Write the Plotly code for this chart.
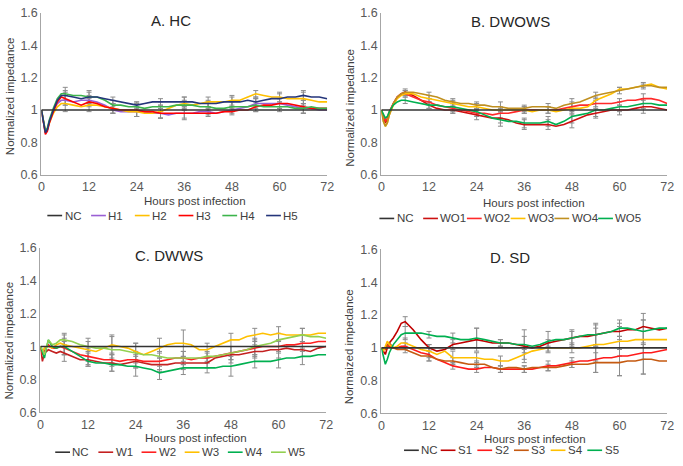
import plotly.graph_objects as go

# time points (hours post infection)
hours = [0, 0.5, 1, 1.5, 2, 3, 4, 5, 6, 8, 10, 12, 14, 16, 18, 20, 22, 24, 26, 28, 30,
         32, 34, 36, 38, 40, 42, 44, 46, 48, 50, 52, 54, 56, 58, 60, 62, 64, 66, 68, 70, 72]
err_hours = [6, 12, 18, 24, 30, 36, 42, 48, 54, 60, 66]
nc_hours = [0, 72]
nc_vals = [1.0, 1.0]

x_ticks = [0, 12, 24, 36, 48, 60, 72]
y_ticks = [0.6, 0.8, 1.0, 1.2, 1.4, 1.6]
y_tick_labels = ["0.6", "0.8", "1", "1.2", "1.4", "1.6"]

# A. HC
hc_names = ["H1", "H2", "H3", "H4", "H5"]
hc_colors = ["#9a5fd4", "#ffc000", "#ff0000", "#3cb44b", "#24357a"]
hc_h1 = [1.0, 0.93, 0.86, 0.88, 0.93, 1.00, 1.04, 1.06, 1.06, 1.05, 1.06, 1.06, 1.05, 1.03, 1.00, 0.99,
         0.99, 0.99, 0.99, 0.98, 0.98, 0.97, 0.98, 0.98, 0.98, 0.99, 0.99, 0.98, 0.99, 1.00, 1.01, 1.02,
         1.04, 1.04, 1.04, 1.04, 1.03, 1.02, 1.01, 1.01, 1.00, 1.00]
hc_h2 = [1.0, 0.94, 0.87, 0.88, 0.92, 0.98, 1.02, 1.04, 1.04, 1.03, 1.02, 1.03, 1.03, 1.02, 1.01, 1.00,
         0.99, 0.99, 0.98, 0.98, 0.99, 1.01, 1.03, 1.04, 1.03, 1.04, 1.05, 1.05, 1.05, 1.06, 1.06, 1.08,
         1.10, 1.09, 1.08, 1.08, 1.07, 1.07, 1.07, 1.06, 1.05, 1.05]
hc_h3 = [1.0, 0.93, 0.85, 0.87, 0.92, 0.99, 1.05, 1.08, 1.07, 1.05, 1.03, 1.05, 1.04, 1.02, 1.01, 1.00,
         1.00, 1.00, 0.99, 0.99, 0.98, 0.98, 0.98, 0.98, 0.98, 0.98, 0.98, 0.98, 0.99, 0.99, 1.00, 1.00,
         1.02, 1.03, 1.03, 1.04, 1.04, 1.03, 1.02, 1.01, 1.01, 1.01]
hc_h4 = [1.0, 0.94, 0.87, 0.89, 0.94, 1.01, 1.07, 1.10, 1.10, 1.09, 1.09, 1.08, 1.08, 1.06, 1.03, 1.03,
         1.02, 1.02, 1.01, 1.02, 1.02, 1.02, 1.03, 1.03, 1.03, 1.02, 1.02, 1.01, 1.01, 1.02, 1.02, 1.02,
         1.03, 1.02, 1.02, 1.02, 1.02, 1.01, 1.01, 1.02, 1.01, 1.01]
hc_h5 = [1.0, 0.93, 0.86, 0.88, 0.93, 1.00, 1.06, 1.09, 1.09, 1.08, 1.07, 1.08, 1.08, 1.07, 1.06, 1.05,
         1.04, 1.03, 1.04, 1.05, 1.05, 1.05, 1.05, 1.05, 1.05, 1.04, 1.04, 1.04, 1.05, 1.05, 1.05, 1.06,
         1.05, 1.06, 1.07, 1.07, 1.08, 1.08, 1.09, 1.08, 1.08, 1.07]
hc_err = [[0.03, 0.03, 0.02, 0.03, 0.03, 0.03, 0.02, 0.02, 0.03, 0.03, 0.03],
          [0.05, 0.04, 0.03, 0.03, 0.04, 0.04, 0.03, 0.03, 0.02, 0.03, 0.04],
          [0.04, 0.03, 0.03, 0.04, 0.03, 0.04, 0.02, 0.02, 0.03, 0.03, 0.04],
          [0.04, 0.03, 0.03, 0.03, 0.03, 0.03, 0.03, 0.03, 0.04, 0.03, 0.03],
          [0.03, 0.04, 0.02, 0.02, 0.02, 0.03, 0.02, 0.03, 0.03, 0.03, 0.03]]

# B. DWOWS
dwows_names = ["WO1", "WO2", "WO3", "WO4", "WO5"]
dwows_colors = ["#cc1010", "#ff2a2a", "#ffc000", "#c09020", "#00b050"]
dwows_wo1 = [1.0, 0.95, 0.92, 0.94, 0.98, 1.04, 1.08, 1.10, 1.11, 1.09, 1.06, 1.03, 1.01, 1.00, 1.00, 0.99,
             0.98, 0.97, 0.96, 0.95, 0.95, 0.94, 0.92, 0.91, 0.91, 0.91, 0.91, 0.90, 0.91, 0.93, 0.95, 0.97,
             0.98, 0.99, 1.00, 1.00, 1.00, 1.01, 1.02, 1.02, 1.01, 1.00]
dwows_wo2 = [1.0, 0.96, 0.93, 0.95, 0.99, 1.04, 1.08, 1.10, 1.10, 1.08, 1.06, 1.05, 1.03, 1.02, 1.01, 1.00,
             0.99, 0.98, 0.98, 0.97, 0.98, 0.98, 0.99, 1.00, 1.00, 1.00, 1.00, 1.00, 1.01, 1.02, 1.03, 1.03,
             1.04, 1.04, 1.04, 1.05, 1.06, 1.06, 1.07, 1.07, 1.06, 1.04]
dwows_wo3 = [1.0, 0.93, 0.90, 0.92, 0.97, 1.03, 1.07, 1.09, 1.10, 1.10, 1.08, 1.07, 1.06, 1.05, 1.04, 1.03,
             1.02, 1.02, 1.01, 1.00, 1.00, 1.00, 1.00, 1.00, 0.99, 1.00, 1.00, 0.99, 1.00, 1.01, 1.01, 1.02,
             1.06, 1.08, 1.10, 1.13, 1.13, 1.14, 1.15, 1.16, 1.14, 1.13]
dwows_wo4 = [1.0, 0.93, 0.90, 0.92, 0.97, 1.04, 1.08, 1.10, 1.11, 1.11, 1.10, 1.09, 1.08, 1.06, 1.05, 1.04,
             1.04, 1.03, 1.03, 1.02, 1.02, 1.01, 1.01, 1.01, 1.02, 1.02, 1.02, 1.01, 1.03, 1.04, 1.05, 1.07,
             1.09, 1.10, 1.11, 1.12, 1.13, 1.14, 1.15, 1.15, 1.14, 1.14]
dwows_wo5 = [1.0, 0.97, 0.95, 0.96, 0.99, 1.03, 1.05, 1.06, 1.06, 1.05, 1.04, 1.03, 1.03, 1.02, 1.02, 1.01,
             1.00, 0.99, 0.97, 0.95, 0.94, 0.93, 0.93, 0.92, 0.92, 0.92, 0.93, 0.91, 0.93, 0.96, 0.97, 0.98,
             1.00, 1.00, 1.01, 1.02, 1.02, 1.03, 1.04, 1.04, 1.03, 1.03]
dwows_err = [[0.02, 0.02, 0.02, 0.03, 0.03, 0.03, 0.03, 0.04, 0.03, 0.03, 0.04],
             [0.02, 0.02, 0.03, 0.02, 0.03, 0.02, 0.02, 0.03, 0.02, 0.02, 0.03],
             [0.01, 0.02, 0.02, 0.02, 0.02, 0.02, 0.02, 0.03, 0.02, 0.01, 0.02],
             [0.01, 0.02, 0.02, 0.02, 0.03, 0.02, 0.02, 0.03, 0.02, 0.02, 0.01],
             [0.02, 0.02, 0.03, 0.02, 0.04, 0.03, 0.03, 0.04, 0.04, 0.03, 0.03]]

# C. DWWS
dwws_names = ["W1", "W2", "W3", "W4", "W5"]
dwws_colors = ["#c42020", "#ff2020", "#ffc000", "#00b050", "#92d050"]
dwws_w1 = [1.0, 0.91, 0.96, 0.97, 0.98, 0.97, 0.96, 0.97, 0.96, 0.94, 0.92, 0.92, 0.91, 0.90, 0.90, 0.89,
           0.90, 0.91, 0.90, 0.89, 0.89, 0.89, 0.90, 0.90, 0.90, 0.90, 0.90, 0.93, 0.94, 0.95, 0.95, 0.96,
           0.97, 0.97, 0.98, 0.98, 0.99, 0.98, 0.98, 0.97, 0.99, 1.00]
dwws_w2 = [1.0, 0.95, 0.97, 1.00, 1.01, 0.99, 0.99, 1.00, 0.99, 0.97, 0.95, 0.94, 0.93, 0.92, 0.92, 0.91,
           0.92, 0.92, 0.91, 0.91, 0.91, 0.92, 0.93, 0.93, 0.92, 0.93, 0.93, 0.94, 0.95, 0.96, 0.97, 0.98,
           0.99, 1.00, 1.00, 1.00, 1.01, 1.01, 1.02, 1.02, 1.03, 1.03]
dwws_w3 = [1.0, 0.97, 0.99, 1.00, 1.00, 0.99, 1.01, 1.02, 1.01, 1.00, 0.99, 0.98, 0.97, 0.99, 1.01, 1.00,
           0.99, 0.97, 0.95, 0.97, 0.99, 1.01, 1.02, 1.02, 1.01, 0.98, 0.98, 1.00, 1.02, 1.04, 1.04, 1.06,
           1.07, 1.08, 1.07, 1.08, 1.07, 1.07, 1.07, 1.07, 1.08, 1.08]
dwws_w4 = [1.0, 0.96, 0.93, 0.99, 1.04, 1.00, 0.99, 1.00, 1.00, 0.97, 0.94, 0.91, 0.90, 0.90, 0.89, 0.89,
           0.88, 0.88, 0.87, 0.86, 0.84, 0.85, 0.86, 0.87, 0.87, 0.87, 0.87, 0.87, 0.88, 0.88, 0.89, 0.90,
           0.91, 0.91, 0.91, 0.92, 0.93, 0.93, 0.94, 0.94, 0.95, 0.95]
dwws_w5 = [1.0, 0.98, 0.95, 1.00, 1.04, 1.01, 1.02, 1.04, 1.04, 1.03, 1.01, 1.00, 0.99, 0.99, 0.98, 0.98,
           0.97, 0.96, 0.95, 0.95, 0.94, 0.93, 0.93, 0.93, 0.93, 0.93, 0.94, 0.94, 0.95, 0.96, 0.97, 0.98,
           1.00, 1.01, 1.02, 1.04, 1.05, 1.06, 1.07, 1.06, 1.06, 1.05]
dwws_err = [[0.05, 0.04, 0.05, 0.04, 0.04, 0.04, 0.03, 0.05, 0.04, 0.05, 0.04],
            [0.04, 0.05, 0.04, 0.05, 0.05, 0.04, 0.03, 0.04, 0.05, 0.04, 0.05],
            [0.06, 0.07, 0.06, 0.05, 0.06, 0.08, 0.04, 0.04, 0.04, 0.04, 0.04],
            [0.05, 0.03, 0.04, 0.06, 0.04, 0.04, 0.03, 0.06, 0.04, 0.05, 0.05],
            [0.04, 0.03, 0.08, 0.06, 0.03, 0.04, 0.03, 0.04, 0.05, 0.04, 0.04]]

# D. SD
sd_names = ["S1", "S2", "S3", "S4", "S5"]
sd_colors = ["#c00000", "#ff1a1a", "#c55a11", "#ffc000", "#00b050"]
sd_s1 = [1.0, 0.98, 0.96, 1.00, 1.03, 1.06, 1.10, 1.15, 1.16, 1.11, 1.05, 1.00, 0.98, 0.99, 1.02, 1.03,
         1.04, 1.05, 1.04, 1.03, 1.03, 1.03, 1.02, 1.01, 1.00, 1.01, 1.03, 1.04, 1.05, 1.06, 1.07, 1.07,
         1.08, 1.09, 1.10, 1.10, 1.11, 1.11, 1.13, 1.12, 1.11, 1.12]
sd_s2 = [1.0, 0.99, 1.00, 1.02, 1.01, 1.00, 1.00, 1.01, 1.01, 0.99, 0.97, 0.96, 0.93, 0.91, 0.89, 0.88,
         0.87, 0.87, 0.88, 0.88, 0.87, 0.87, 0.87, 0.87, 0.87, 0.88, 0.89, 0.89, 0.90, 0.91, 0.92, 0.92,
         0.93, 0.94, 0.94, 0.95, 0.95, 0.96, 0.97, 0.97, 0.98, 0.99]
sd_s3 = [1.0, 0.99, 0.99, 1.01, 1.03, 1.00, 0.99, 0.99, 0.99, 0.97, 0.95, 0.95, 0.93, 0.92, 0.92, 0.91,
         0.90, 0.90, 0.90, 0.88, 0.87, 0.88, 0.88, 0.87, 0.88, 0.88, 0.88, 0.88, 0.89, 0.90, 0.90, 0.90,
         0.91, 0.91, 0.91, 0.91, 0.92, 0.92, 0.93, 0.93, 0.92, 0.92]
sd_s4 = [1.0, 0.98, 1.01, 1.04, 1.02, 1.00, 1.01, 1.03, 1.03, 1.01, 0.99, 0.98, 0.96, 0.98, 0.94, 0.94,
         0.94, 0.94, 0.93, 0.93, 0.92, 0.92, 0.94, 0.96, 0.98, 0.99, 1.00, 1.00, 1.00, 1.00, 1.00, 1.01,
         1.02, 1.02, 1.03, 1.04, 1.04, 1.05, 1.05, 1.05, 1.05, 1.05]
sd_s5 = [1.0, 0.95, 0.90, 0.93, 0.97, 1.02, 1.05, 1.08, 1.09, 1.09, 1.09, 1.08, 1.07, 1.07, 1.06, 1.05,
         1.05, 1.06, 1.05, 1.04, 1.03, 1.03, 1.02, 1.02, 1.01, 1.02, 1.04, 1.05, 1.05, 1.06, 1.07, 1.08,
         1.08, 1.09, 1.10, 1.12, 1.12, 1.11, 1.10, 1.11, 1.12, 1.12]
sd_err = [[0.03, 0.02, 0.03, 0.07, 0.02, 0.10, 0.02, 0.05, 0.07, 0.05, 0.08],
          [0.02, 0.04, 0.02, 0.02, 0.02, 0.02, 0.03, 0.03, 0.08, 0.12, 0.13],
          [0.02, 0.03, 0.02, 0.02, 0.02, 0.02, 0.02, 0.02, 0.06, 0.08, 0.09],
          [0.03, 0.04, 0.04, 0.03, 0.03, 0.03, 0.03, 0.03, 0.10, 0.09, 0.12],
          [0.04, 0.02, 0.03, 0.06, 0.02, 0.05, 0.06, 0.04, 0.06, 0.05, 0.07]]

W, H = 683, 466
FONT = "Liberation Sans, Arial, sans-serif"
NC_COLOR = "#333333"
ERR_COLOR = "#8c8c8c"
TICK_SIZE = 12.5
TEXT_SIZE = 11.5


def fx(p):
    return p / W


def fy(p):
    return 1 - p / H


# panel layout (pixel boxes) and labels
panels = [
    dict(title="A. HC", ylab="Normalized impedance", names=hc_names, colors=hc_colors,
         series=[hc_h1, hc_h2, hc_h3, hc_h4, hc_h5], err=hc_err,
         box=(39, 329, 6, 173), tpos=(170, 14), xt=(195, 200), yt=(7, 92), leg=(45, 44.4, 215)),
    dict(title="B. DWOWS", ylab="Normalized impedance", names=dwows_names, colors=dwows_colors,
         series=[dwows_wo1, dwows_wo2, dwows_wo3, dwows_wo4, dwows_wo5], err=dwows_err,
         box=(384, 674, 6, 173), tpos=(515, 15), xt=(539, 202), yt=(352, 104), leg=(382, 44.4, 218)),
    dict(title="C. DWWS", ylab="Normalized impedance", names=dwws_names, colors=dwws_colors,
         series=[dwws_w1, dwws_w2, dwws_w3, dwws_w4, dwws_w5], err=dwws_err,
         box=(38, 328, 248, 418), tpos=(168, 256), xt=(196, 444), yt=(6, 344), leg=(53, 43.8, 459)),
    dict(title="D. SD", ylab="Normaized impedance", names=sd_names, colors=sd_colors,
         series=[sd_s1, sd_s2, sd_s3, sd_s4, sd_s5], err=sd_err,
         box=(384, 674, 250, 419), tpos=(515, 258), xt=(540, 445), yt=(352, 350), leg=(407, 37.2, 457)),
]

fig = go.Figure()
layout = dict(width=W, height=H, autosize=False, margin=dict(l=0, r=0, t=0, b=0),
              paper_bgcolor="white", plot_bgcolor="white", showlegend=False,
              font=dict(family=FONT, color="#404040"))
annotations = []
shapes = []

for k, p in enumerate(panels):
    n = "" if k == 0 else str(k + 1)
    xref, yref = "x" + n, "y" + n
    x0, x1, y0, y1 = p["box"]
    layout["xaxis" + n] = dict(domain=[fx(x0), fx(x1)], range=[0, 72], anchor=yref,
                               tickvals=x_ticks, showgrid=False, zeroline=False, showline=True,
                               linecolor="#a6a6a6", linewidth=1.3, ticks="",
                               tickfont=dict(size=TICK_SIZE, color="#595959", family=FONT))
    layout["yaxis" + n] = dict(domain=[fy(y1), fy(y0)], range=[0.6, 1.6], anchor=xref,
                               tickvals=y_ticks, ticktext=y_tick_labels, showgrid=False,
                               zeroline=False, showline=True, linecolor="#a6a6a6", linewidth=1.3,
                               ticks="", tickfont=dict(size=TICK_SIZE, color="#595959", family=FONT))

    # error bars first so lines sit on top
    for vals, errs in zip(p["series"], p["err"]):
        ey = [vals[hours.index(h)] for h in err_hours]
        fig.add_trace(go.Scatter(x=err_hours, y=ey, mode="markers", xaxis=xref, yaxis=yref,
                                 marker=dict(size=1, opacity=0), hoverinfo="skip",
                                 error_y=dict(type="data", array=errs, color=ERR_COLOR,
                                              thickness=1, width=2.5)))
    for name, color, vals in zip(p["names"], p["colors"], p["series"]):
        fig.add_trace(go.Scatter(x=hours, y=vals, mode="lines", name=name, xaxis=xref, yaxis=yref,
                                 line=dict(color=color, width=1.6)))
    fig.add_trace(go.Scatter(x=nc_hours, y=nc_vals, mode="lines", name="NC", xaxis=xref, yaxis=yref,
                             line=dict(color=NC_COLOR, width=1.6)))

    annotations.append(dict(text=p["title"], x=fx(p["tpos"][0]), y=fy(p["tpos"][1]), xref="paper",
                            yref="paper", showarrow=False, xanchor="center", yanchor="middle",
                            font=dict(size=15, color="#262626", family=FONT)))
    annotations.append(dict(text="Hours post infection", x=fx(p["xt"][0]), y=fy(p["xt"][1]),
                            xref="paper", yref="paper", showarrow=False, xanchor="center",
                            yanchor="middle", font=dict(size=TEXT_SIZE, color="#404040", family=FONT)))
    annotations.append(dict(text=p["ylab"], x=fx(p["yt"][0]), y=fy(p["yt"][1]), xref="paper",
                            yref="paper", showarrow=False, textangle=-90, xanchor="center",
                            yanchor="middle", font=dict(size=TEXT_SIZE, color="#404040", family=FONT)))

    # legend row drawn by hand: short line + label
    lx, step, ly = p["leg"]
    for i, (name, color) in enumerate(zip(["NC"] + p["names"], [NC_COLOR] + p["colors"])):
        sx = lx + i * step
        shapes.append(dict(type="line", xref="paper", yref="paper", x0=fx(sx), x1=fx(sx + 15),
                           y0=fy(ly), y1=fy(ly), line=dict(color=color, width=1.6)))
        annotations.append(dict(text=name, x=fx(sx + 15.5), y=fy(ly), xref="paper", yref="paper",
                                showarrow=False, xanchor="left", yanchor="middle",
                                font=dict(size=TEXT_SIZE, color="#404040", family=FONT)))

layout["annotations"] = annotations
layout["shapes"] = shapes
fig.update_layout(**layout)

# the default page has an 8px body margin; drop it so the figure fills the window exactly
fig.write_html("out.html", config={"displayModeBar": False},
               post_script="document.body.style.margin='0';document.body.style.overflow='hidden';")
